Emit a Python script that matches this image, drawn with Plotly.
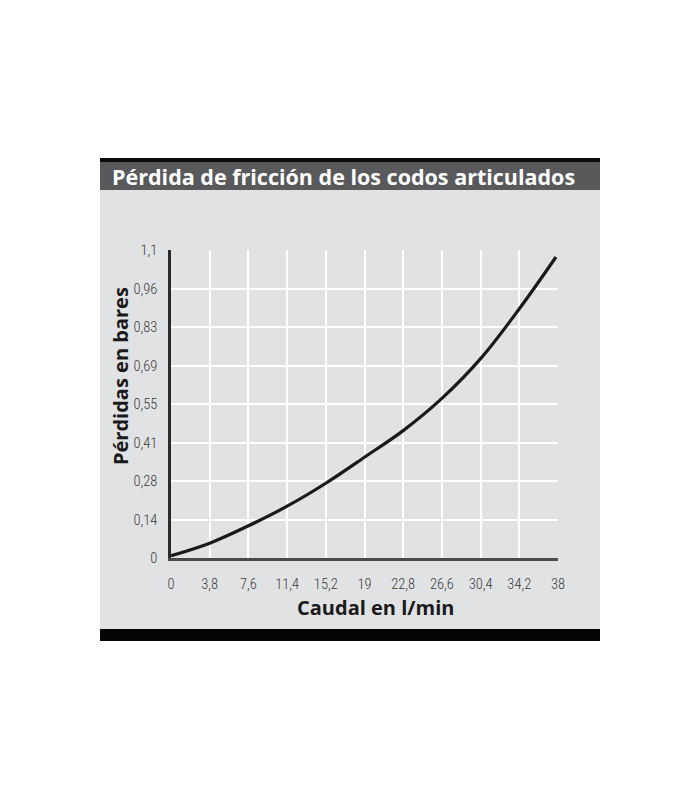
import plotly.graph_objects as go

# Data
caudal = [0, 3.8, 7.6, 11.4, 15.2, 19, 22.8, 26.6, 30.4, 34.2, 37.8]
perdidas = [0.008, 0.053, 0.115, 0.185, 0.267, 0.36, 0.455, 0.57, 0.712, 0.89, 1.075]

x_tickvals = [0, 3.8, 7.6, 11.4, 15.2, 19, 22.8, 26.6, 30.4, 34.2, 38]
x_ticktext = ["0", "3,8", "7,6", "11,4", "15,2", "19", "22,8", "26,6", "30,4", "34,2", "38"]
y_tickvals = [0, 0.1375, 0.275, 0.4125, 0.55, 0.6875, 0.825, 0.9625, 1.1]
y_ticktext = ["0", "0,14", "0,28", "0,41", "0,55", "0,69", "0,83", "0,96", "1,1"]

title_text = "Pérdida de fricción de los codos articulados"
x_title = "Caudal en l/min"
y_title = "Pérdidas en bares"

# Layout geometry (pixels, page coordinates; page body has an 8px offset)
OFF = 8
W, H = 700, 800
L, R, T, B = 171, 558, 250, 558
pw, ph = R - L, B - T


def px(x):
    return (x - L) / pw


def py(y):
    return (B - y) / ph


panel = "#e1e2e4"

fig = go.Figure()
fig.add_trace(go.Scatter(
    x=caudal, y=perdidas, mode="lines",
    line=dict(color="#1a1a1a", width=3.2, shape="spline", smoothing=1.0),
    hoverinfo="skip", showlegend=False,
))

shapes = [
    dict(type="rect", xref="paper", yref="paper", x0=px(100), x1=px(600), y0=py(629), y1=py(190),
         fillcolor=panel, line=dict(width=0), layer="below"),
    dict(type="rect", xref="paper", yref="paper", x0=px(100), x1=px(600), y0=py(190), y1=py(162),
         fillcolor="#59595b", line=dict(width=0), layer="below"),
    dict(type="rect", xref="paper", yref="paper", x0=px(100), x1=px(600), y0=py(162), y1=py(158),
         fillcolor="#0a0a0a", line=dict(width=0), layer="below"),
    dict(type="rect", xref="paper", yref="paper", x0=px(100), x1=px(600), y0=py(641), y1=py(629),
         fillcolor="#050505", line=dict(width=0), layer="below"),
]

tick_font = dict(family="Roboto Condensed, Roboto, sans-serif", size=14.5, weight=300, color="#3c3c3c")
title_font = dict(family="Open Sans, Lato, sans-serif", size=20, color="#1a1a1a")

fig.update_layout(
    width=W, height=H,
    margin=dict(l=L - OFF, r=W - R + OFF, t=T - OFF, b=H - B + OFF, pad=0),
    paper_bgcolor="white",
    plot_bgcolor=panel,
    shapes=shapes,
    showlegend=False,
    annotations=[
        dict(text="<b>" + title_text + "</b>", xref="paper", yref="paper",
             x=px(110), y=py(176), xanchor="left", yanchor="middle", showarrow=False,
             font=dict(family="Open Sans, Lato, sans-serif", size=21.5, color="white")),
        dict(text="<b>" + x_title + "</b>", xref="paper", yref="paper",
             x=px(375), y=py(607), xanchor="center", yanchor="middle", showarrow=False,
             font=title_font),
        dict(text="<b>" + y_title + "</b>", xref="paper", yref="paper",
             x=px(120), y=py(376), xanchor="center", yanchor="middle", showarrow=False,
             textangle=-90, font=title_font),
    ],
)

fig.update_xaxes(
    range=[0, 38], tickvals=x_tickvals, ticktext=x_ticktext,
    showgrid=True, gridcolor="white", gridwidth=1.6,
    zeroline=False, showline=True, linecolor="#4a4a4a", linewidth=2.5,
    ticks="", ticklabelstandoff=11, tickfont=tick_font, fixedrange=True,
)
fig.update_yaxes(
    range=[0, 1.1], tickvals=y_tickvals, ticktext=y_ticktext,
    showgrid=True, gridcolor="white", gridwidth=1.6,
    zeroline=False, showline=True, linecolor="#2a2a2a", linewidth=2.5,
    ticks="", ticklabelstandoff=8, tickfont=tick_font, fixedrange=True,
)

fig.write_html("out.html")
